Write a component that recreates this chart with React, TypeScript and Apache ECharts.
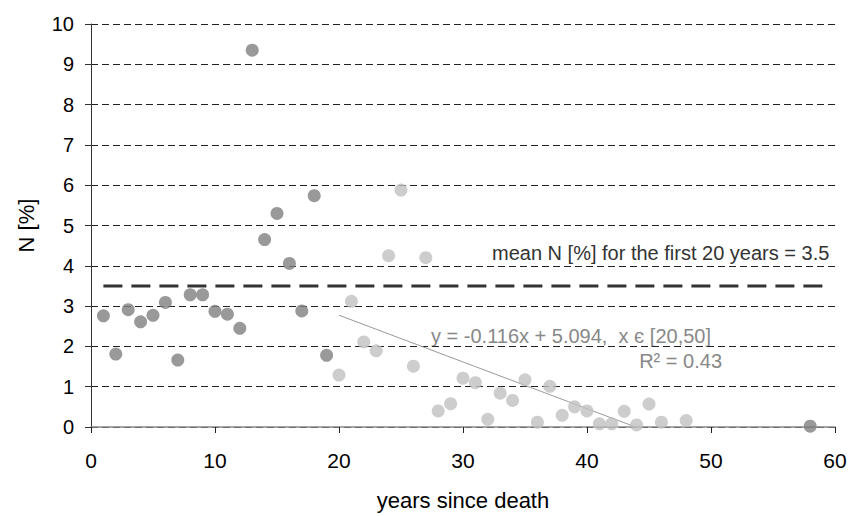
import React, { useEffect, useRef } from "react";
import * as echarts from "echarts";

// Early decomposition (dark points)
const darkX = [1, 2, 3, 4, 5, 6, 7, 8, 9, 10, 11, 12, 13, 14, 15, 16, 17, 18, 19, 58];
const darkY = [2.76, 1.81, 2.91, 2.61, 2.77, 3.09, 1.66, 3.28, 3.28, 2.87, 2.8, 2.45, 9.35, 4.65, 5.3, 4.06, 2.88, 5.74, 1.78, 0.02];

// Later decomposition (light points)
const lightX = [20, 21, 22, 23, 24, 25, 26, 27, 28, 29, 30, 31, 32, 33, 34, 35, 36, 37, 38, 39, 40, 41, 42, 43, 44, 45, 46, 48];
const lightY = [1.29, 3.12, 2.11, 1.89, 4.25, 5.88, 1.51, 4.2, 0.4, 0.58, 1.21, 1.1, 0.19, 0.84, 0.66, 1.17, 0.12, 1.01, 0.29, 0.5, 0.4, 0.08, 0.08, 0.39, 0.05, 0.57, 0.12, 0.16];

// Mean line for the first 20 years
const meanValue = 3.5;
const meanXRange = [1, 59.2];

// Regression
const slope = -0.116;
const intercept = 5.094;
const regStartX = 20;

const xTicks = [0, 10, 20, 30, 40, 50, 60];
const yTicks = [0, 1, 2, 3, 4, 5, 6, 7, 8, 9, 10];

const FONT = "'Liberation Sans', Arial, sans-serif";

export default function App() {
  const ref = useRef<HTMLDivElement>(null);

  useEffect(() => {
    if (!ref.current) return;
    const chart = echarts.init(ref.current, undefined, { renderer: "svg" });

    const regEndX = -intercept / slope;
    const regLine = [
      [regStartX, slope * regStartX + intercept],
      [regEndX, 0],
    ];

    chart.setOption({
      animation: false,
      backgroundColor: "#ffffff",
      textStyle: { fontFamily: FONT },
      grid: { left: 91, right: 16, top: 24, bottom: 86, containLabel: false },
      xAxis: {
        type: "value",
        min: xTicks[0],
        max: xTicks[xTicks.length - 1],
        interval: 10,
        name: "years since death",
        nameLocation: "middle",
        nameGap: 62,
        nameTextStyle: { fontSize: 22, color: "#000", fontFamily: FONT },
        axisLine: { show: true, lineStyle: { color: "#888", width: 1.5 } },
        axisTick: { show: true, inside: false, length: 6, lineStyle: { color: "#222", width: 1 } },
        axisLabel: { fontSize: 21, color: "#000", margin: 23, fontFamily: FONT },
        splitLine: { show: false },
      },
      yAxis: {
        type: "value",
        min: yTicks[0],
        max: yTicks[yTicks.length - 1],
        interval: 1,
        name: "N [%]",
        nameLocation: "middle",
        nameGap: 54,
        nameTextStyle: { fontSize: 22, color: "#000", fontFamily: FONT },
        axisLine: { show: true, lineStyle: { color: "#333", width: 1 } },
        axisTick: { show: true, inside: false, length: 6, lineStyle: { color: "#333", width: 1 } },
        axisLabel: { fontSize: 20, color: "#000", margin: 17, fontFamily: FONT },
        splitLine: { show: true, lineStyle: { color: "#222", width: 1, type: [7, 4] } },
      },
      series: [
        {
          type: "line",
          data: regLine,
          symbol: "none",
          lineStyle: { color: "#999", width: 1 },
          silent: true,
          z: 2,
        },
        {
          type: "line",
          data: meanXRange.map((x) => [x, meanValue]),
          symbol: "none",
          lineStyle: { color: "#333", width: 3, type: [19, 9] },
          silent: true,
          z: 2,
        },
        {
          type: "scatter",
          data: lightX.map((x, i) => [x, lightY[i]]),
          symbolSize: 13,
          itemStyle: { color: "#c0c0c0" },
          z: 3,
        },
        {
          type: "scatter",
          data: darkX.map((x, i) => [x, darkY[i]]),
          symbolSize: 13,
          itemStyle: { color: "#808080" },
          z: 3,
        },
      ],
      graphic: [
        {
          type: "text",
          left: 492,
          top: 243,
          style: {
            text: "mean N [%] for the first 20 years = 3.5",
            fill: "#333",
            font: `20px ${FONT}`,
          },
        },
        {
          type: "text",
          left: 431,
          top: 326,
          style: {
            text: "y = -0.116x + 5.094,  x є [20,50]",
            fill: "#888",
            font: `20px ${FONT}`,
          },
        },
        {
          type: "text",
          right: 851 - 722,
          top: 351,
          style: {
            text: "R² = 0.43",
            fill: "#888",
            font: `20px ${FONT}`,
          },
        },
      ],
    });

    return () => chart.dispose();
  }, []);

  return (
    <div
      ref={ref}
      style={{ position: "fixed", left: 0, top: 0, width: 851, height: 516, background: "#fff" }}
    />
  );
}
